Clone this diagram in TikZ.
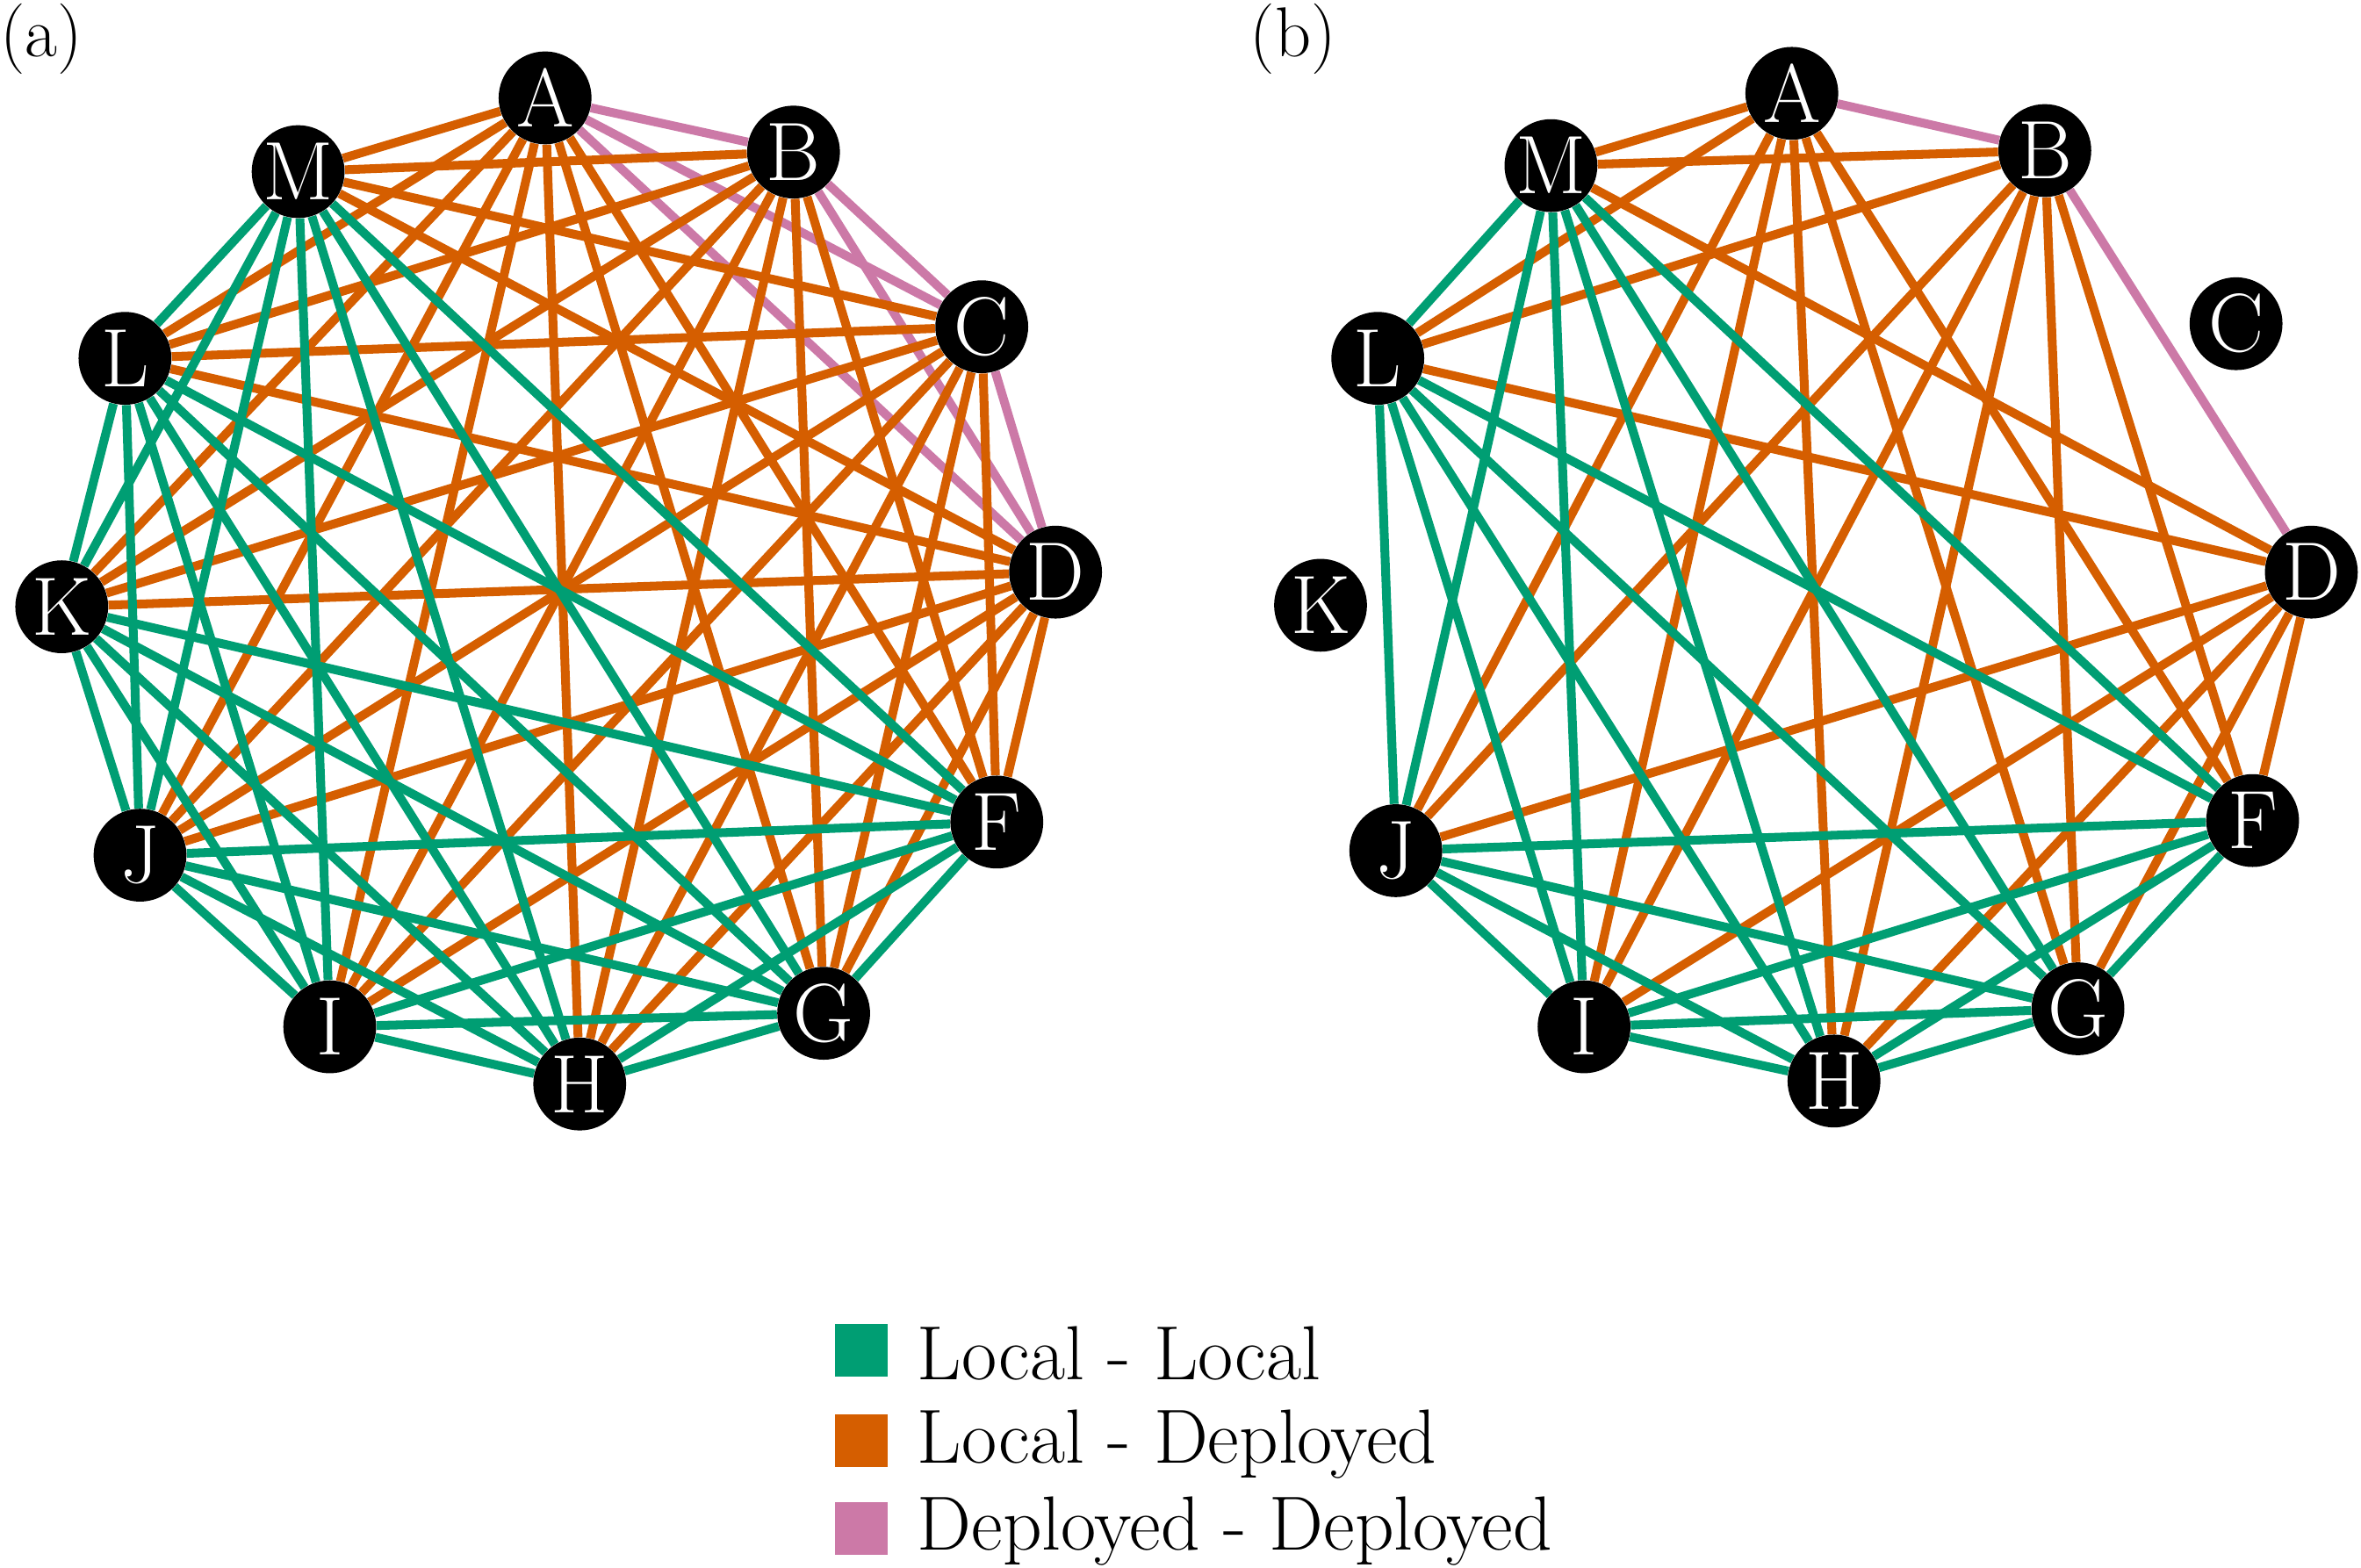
\documentclass[tikz,border=0pt]{standalone}
\usetikzlibrary{backgrounds}
\definecolor{cg}{RGB}{0,158,115}
\definecolor{co}{RGB}{213,94,0}
\definecolor{cp}{RGB}{204,121,167}
\tikzset{
  vtx/.style={circle,fill=black,minimum size=1.85cm,inner sep=0pt,text=white,font=\fontsize{47}{47}\selectfont},
  e0/.style={draw=cg,line width=5pt},
  e1/.style={draw=co,line width=5pt},
  e2/.style={draw=cp,line width=5pt},
  lab/.style={font=\fontsize{43.5}{43.5}\selectfont,anchor=west,inner sep=0pt},
  sq/.style={minimum size=1.05cm,inner sep=0pt}
}
\begin{document}
\begin{tikzpicture}[x=0.03cm,y=-0.03cm]
\useasboundingbox (0,0) rectangle (1568,1041);
\node[font=\fontsize{40}{40}\selectfont,anchor=north west,inner sep=0pt] (la) at (0,2) {(a)};
\node[font=\fontsize{40}{40}\selectfont,anchor=north west,inner sep=0pt] (lb) at (830,2) {(b)};
% graph a
\foreach \n/\x/\y in {A/362/65,B/527/101,C/652/217,D/701/380,F/662/546,G/547/673,H/385/720,I/219/682,J/93/568,K/41/403,L/83/238,M/198/114}
  \node[vtx] (a\n) at (\x,\y) {\n};
\begin{scope}[on background layer]
\foreach \u/\tu [count=\i] in {A/1,B/1,C/1,D/1,F/0,G/0,H/0,I/0,J/0,K/0,L/0,M/0}{
  \foreach \v/\tv [count=\j] in {A/1,B/1,C/1,D/1,F/0,G/0,H/0,I/0,J/0,K/0,L/0,M/0}{
    \ifnum\j>\i
      \pgfmathtruncatemacro\s{\tu+\tv}
      \draw[e\s] (a\u) -- (a\v);
    \fi
  }}
\end{scope}
% graph b
\foreach \n/\x/\y in {A/1190/62,B/1358/100,C/1485/215,D/1535/380,F/1496/545,G/1380/670,H/1218/718,I/1052/682,J/927/565,K/877/402,L/915/238,M/1030/110}
  \node[vtx] (b\n) at (\x,\y) {\n};
\begin{scope}[on background layer]
\foreach \u/\tu [count=\i] in {A/1,B/1,D/1,F/0,G/0,H/0,I/0,J/0,L/0,M/0}{
  \foreach \v/\tv [count=\j] in {A/1,B/1,D/1,F/0,G/0,H/0,I/0,J/0,L/0,M/0}{
    \ifnum\j>\i
      \pgfmathtruncatemacro\skipit{(\i==1)&&(\j==3)}
      \ifnum\skipit=0
        \pgfmathtruncatemacro\s{\tu+\tv}
        \draw[e\s] (b\u) -- (b\v);
      \fi
    \fi
  }}
\end{scope}
% legend
\node[sq,fill=cg] (s1) at (572,897) {};
\node[sq,fill=co] (s2) at (572,957) {};
\node[sq,fill=cp] (s3) at (572,1015) {};
\node[lab] (t1) at (609,899) {Local - Local};
\node[lab] (t2) at (609,959) {Local - Deployed};
\node[lab] (t3) at (609,1017) {Deployed - Deployed};
\end{tikzpicture}
\end{document}
